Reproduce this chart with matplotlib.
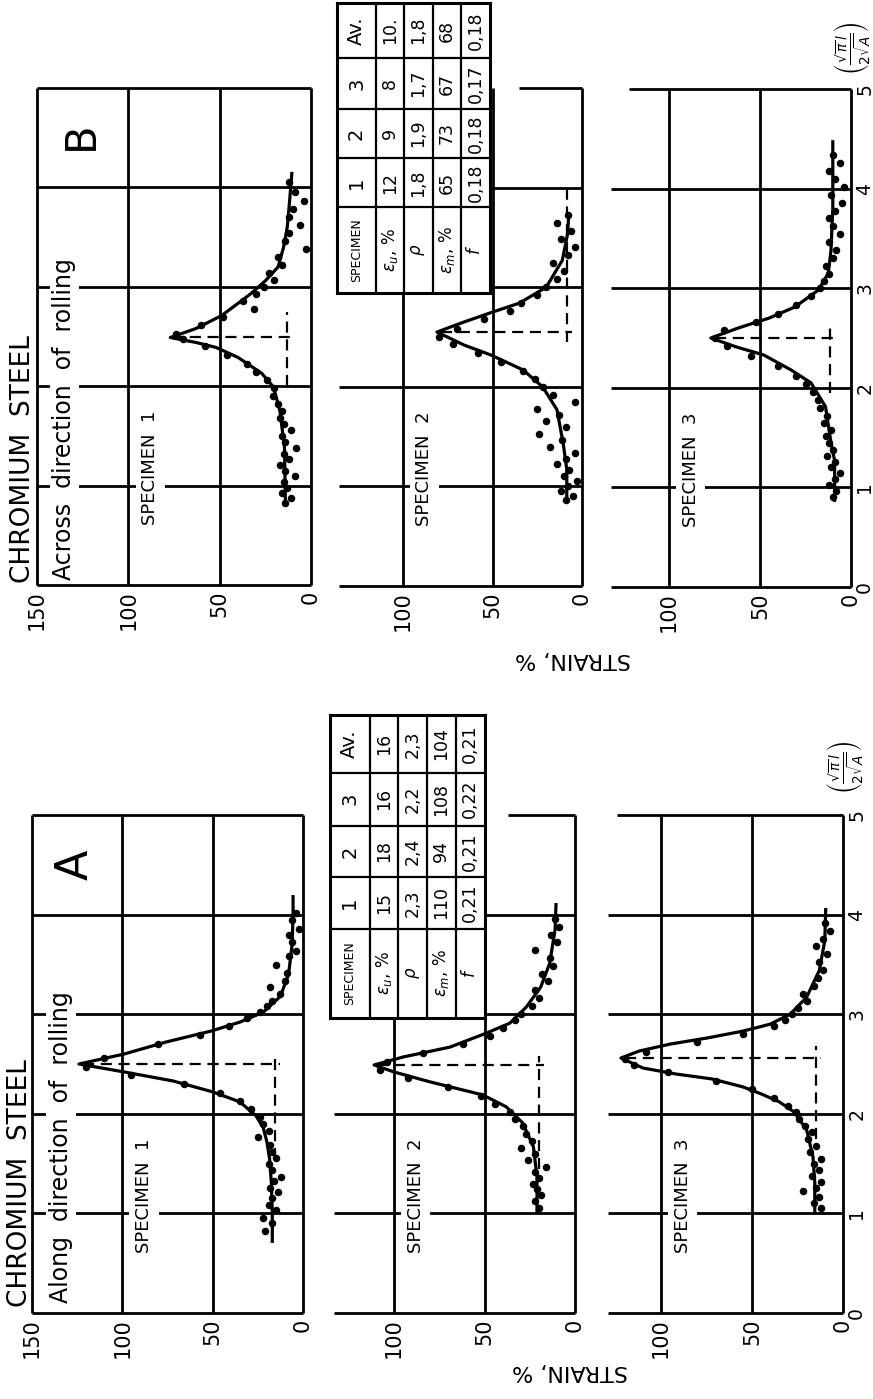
import matplotlib
matplotlib.use("Agg")
import matplotlib.pyplot as plt

plt.rcParams['font.family'] = ['DejaVu Sans']
plt.rcParams['mathtext.fontset'] = 'dejavusans'

W, H = 873, 1399

# ---- data: position (l-units) and strain (%) ----
A1_POS = [0.72, 1.00, 1.30, 1.55, 1.72, 1.86, 1.98, 2.12, 2.22, 2.33, 2.42, 2.50, 2.60, 2.72, 2.83, 2.92, 3.02, 3.18, 3.40, 3.70, 4.00, 4.18]
A1_STRAIN = [17, 17, 17.5, 18.5, 20, 22, 26, 35, 50, 72, 99, 124, 99, 76, 51, 35, 22, 12.5, 8, 6, 5.5, 5.5]
A2_POS = [1.02, 1.37, 1.67, 1.91, 2.07, 2.19, 2.32, 2.42, 2.49, 2.57, 2.67, 2.81, 2.91, 3.07, 3.27, 3.51, 3.85, 4.10]
A2_STRAIN = [21, 21, 23, 29, 38, 51, 80, 100, 111, 95, 69, 49, 36, 27, 19, 14, 11, 10.5]
A3_POS = [1.02, 1.31, 1.57, 1.84, 2.02, 2.12, 2.20, 2.27, 2.35, 2.40, 2.46, 2.56, 2.63, 2.70, 2.76, 2.83, 2.90, 3.00, 3.17, 3.44, 3.74, 4.05]
A3_STRAIN = [15.5, 15.5, 16.5, 20, 27, 35, 45, 55, 72, 92, 110, 122, 112, 95, 75, 55, 40, 29, 20, 13, 10, 9.5]
B1_POS = [0.82, 1.38, 1.75, 1.99, 2.13, 2.29, 2.39, 2.44, 2.49, 2.58, 2.71, 2.86, 2.93, 3.06, 3.20, 3.40, 3.60, 3.80, 4.14]
B1_STRAIN = [14, 14.5, 17, 20.5, 27, 40, 52, 63, 77, 63, 49, 38, 33, 25, 18, 15, 13, 12, 10.5]
B2_POS = [0.88, 1.17, 1.43, 1.77, 2.00, 2.17, 2.32, 2.42, 2.55, 2.65, 2.75, 2.84, 3.00, 3.27, 3.54, 3.70]
B2_STRAIN = [8.5, 8.5, 10.5, 14, 22, 33, 51, 66, 81, 66, 50, 35, 20, 11, 8, 7.5]
B3_POS = [0.87, 1.27, 1.45, 1.81, 2.05, 2.18, 2.33, 2.41, 2.50, 2.60, 2.70, 2.81, 2.98, 3.15, 3.38, 3.80, 4.47]
B3_STRAIN = [9, 9, 11, 14, 22, 33, 48, 63, 77, 62, 45, 31, 18, 12.5, 11, 10, 10]

# measured points
A1_PTS_POS = [0.82, 0.90, 0.95, 1.03, 1.08, 1.15, 1.21, 1.26, 1.33, 1.37, 1.44, 1.50, 1.56, 1.62, 1.69, 1.77, 1.83, 1.90, 1.97, 2.05, 2.13, 2.21, 2.30, 2.39, 2.47, 2.56, 2.70, 2.79, 2.88, 2.96, 3.02, 3.08, 3.13, 3.20, 3.27, 3.33, 3.41, 3.49, 3.58, 3.63, 3.72, 3.80, 3.86, 3.95, 4.02]
A1_PTS_STRAIN = [21, 17, 22, 15, 19, 17, 14, 18, 16, 12, 17, 19, 15, 17, 18, 25, 19, 22, 24, 29, 35, 46, 66, 95, 120, 110, 80, 57, 41, 31, 24, 20, 17, 13, 18, 10, 9, 15, 8, 4, 6, 8, 2, 6, 4]
A2_PTS_POS = [1.05, 1.12, 1.18, 1.25, 1.30, 1.36, 1.42, 1.47, 1.54, 1.60, 1.66, 1.73, 1.80, 1.88, 1.95, 2.02, 2.10, 2.18, 2.27, 2.36, 2.44, 2.52, 2.61, 2.70, 2.78, 2.86, 2.94, 3.00, 3.08, 3.16, 3.24, 3.33, 3.40, 3.48, 3.56, 3.64, 3.72, 3.80, 3.88, 3.96]
A2_PTS_STRAIN = [20, 22, 19, 21, 23, 20, 22, 16, 26, 22, 30, 24, 27, 29, 33, 36, 44, 52, 70, 92, 108, 104, 84, 62, 47, 40, 33, 30, 24, 20, 22, 15, 18, 12, 14, 22, 10, 13, 9, 11]
A3_PTS_POS = [1.05, 1.10, 1.16, 1.22, 1.26, 1.32, 1.38, 1.44, 1.50, 1.55, 1.62, 1.68, 1.75, 1.82, 1.88, 1.95, 2.02, 2.08, 2.16, 2.25, 2.33, 2.42, 2.49, 2.55, 2.62, 2.72, 2.80, 2.88, 2.94, 3.00, 3.06, 3.13, 3.20, 3.28, 3.36, 3.44, 3.52, 3.60, 3.68, 3.76, 3.84, 3.92]
A3_PTS_STRAIN = [12, 16, 13, 22, 15, 12, 17, 13, 16, 12, 18, 15, 19, 17, 21, 24, 26, 30, 38, 50, 70, 96, 115, 120, 108, 80, 55, 38, 32, 28, 25, 20, 22, 16, 14, 11, 13, 9, 15, 11, 7, 10]
B1_PTS_POS = [0.82, 0.88, 0.93, 0.98, 1.04, 1.10, 1.15, 1.21, 1.27, 1.32, 1.38, 1.44, 1.50, 1.56, 1.62, 1.68, 1.75, 1.82, 1.90, 1.98, 2.06, 2.14, 2.22, 2.31, 2.40, 2.47, 2.53, 2.62, 2.70, 2.78, 2.86, 2.93, 3.00, 3.07, 3.14, 3.22, 3.30, 3.38, 3.46, 3.54, 3.62, 3.70, 3.78, 3.86, 3.95, 4.05]
B1_PTS_STRAIN = [14, 11, 16, 13, 15, 9, 14, 17, 12, 15, 8, 14, 16, 11, 15, 17, 16, 18, 21, 20, 24, 30, 35, 46, 58, 70, 74, 60, 48, 31, 37, 30, 26, 20, 23, 16, 18, 3, 14, 12, 6, 12, 10, 4, 9, 12]
B2_PTS_POS = [0.86, 0.90, 0.95, 1.00, 1.05, 1.10, 1.16, 1.22, 1.28, 1.34, 1.40, 1.47, 1.53, 1.60, 1.66, 1.72, 1.78, 1.85, 1.92, 2.00, 2.08, 2.16, 2.25, 2.34, 2.43, 2.50, 2.58, 2.68, 2.76, 2.84, 2.92, 3.00, 3.08, 3.16, 3.24, 3.32, 3.40, 3.48, 3.56, 3.64, 3.72]
B2_PTS_STRAIN = [9, 5, 12, 8, 3, 10, 7, 14, 9, 4, 18, 11, 24, 9, 20, 13, 25, 4, 16, 22, 26, 33, 45, 58, 72, 80, 70, 55, 40, 34, 25, 20, 14, 10, 16, 8, 4, 12, 6, 14, 8]
B3_PTS_POS = [0.90, 0.96, 1.02, 1.08, 1.14, 1.20, 1.26, 1.32, 1.38, 1.45, 1.52, 1.58, 1.65, 1.72, 1.80, 1.88, 1.96, 2.04, 2.12, 2.22, 2.32, 2.42, 2.50, 2.58, 2.66, 2.74, 2.83, 2.92, 3.00, 3.07, 3.14, 3.22, 3.30, 3.38, 3.46, 3.54, 3.62, 3.70, 3.78, 3.86, 3.94, 4.02, 4.10, 4.18, 4.26, 4.34]
B3_PTS_STRAIN = [10, 8, 12, 9, 6, 11, 9, 13, 10, 12, 14, 11, 15, 13, 17, 18, 21, 25, 30, 40, 55, 68, 75, 70, 52, 40, 30, 22, 17, 15, 12, 14, 10, 8, 12, 6, 10, 12, 9, 5, 11, 4, 9, 12, 6, 10]

# dashed construction: peak position, peak strain, eps_u level, eps_u span
A1_MARK = (2.50, 122, 15.5, 1.55, 2.60)
A2_MARK = (2.49, 110, 20, 1.45, 2.58)
A3_MARK = (2.56, 120, 15, 1.75, 2.68)
B1_MARK = (2.49, 76, 13, 2.00, 2.75)
B2_MARK = (2.55, 79, 8.5, 2.45, 4.00)
B3_MARK = (2.50, 75, 11.5, 1.95, 2.62)

TABLE_HEAD = ['SPECIMEN', '1', '2', '3', 'Av.']
TABLE_QTY = [r'$\varepsilon_u$, %', r'$\rho$', r'$\varepsilon_m$, %', r'$f$']
TABLE_A = [['15', '18', '16', '16'],
           ['2,3', '2,4', '2,2', '2,3'],
           ['110', '94', '108', '104'],
           ['0,21', '0,21', '0,22', '0,21']]
TABLE_B = [['12', '9', '8', '10.'],
           ['1,8', '1,9', '1,7', '1,8'],
           ['65', '73', '67', '68'],
           ['0,18', '0,18', '0,17', '0,18']]

# ---- layout (pixels of the rotated page) ----
PANELS = [
    dict(box=(32, 303, 815, 1313), lo=150, top_lo=150, ticks=[150, 100, 50, 0], right=False,
         pos=A1_POS, strain=A1_STRAIN, ppos=A1_PTS_POS, pstrain=A1_PTS_STRAIN, mark=A1_MARK, name='SPECIMEN  1'),
    dict(box=(303.5, 575, 815, 1313), lo=133, top_lo=37, ticks=[100, 50, 0], right=False,
         pos=A2_POS, strain=A2_STRAIN, ppos=A2_PTS_POS, pstrain=A2_PTS_STRAIN, mark=A2_MARK, name='SPECIMEN  2'),
    dict(box=(570, 843, 815, 1313), lo=129, top_lo=124, ticks=[100, 50, 0], right=True,
         pos=A3_POS, strain=A3_STRAIN, ppos=A3_PTS_POS, pstrain=A3_PTS_STRAIN, mark=A3_MARK, name='SPECIMEN  3'),
    dict(box=(37, 311, 88, 585), lo=150, top_lo=150, ticks=[150, 100, 50, 0], right=False,
         pos=B1_POS, strain=B1_STRAIN, ppos=B1_PTS_POS, pstrain=B1_PTS_STRAIN, mark=B1_MARK, name='SPECIMEN  1'),
    dict(box=(313.5, 582, 88, 586), lo=136, top_lo=35, ticks=[100, 50, 0], right=False,
         pos=B2_POS, strain=B2_STRAIN, ppos=B2_PTS_POS, pstrain=B2_PTS_STRAIN, mark=B2_MARK, name='SPECIMEN  2'),
    dict(box=(578, 851, 89, 587), lo=132, top_lo=122, ticks=[100, 50, 0], right=True,
         pos=B3_POS, strain=B3_STRAIN, ppos=B3_PTS_POS, pstrain=B3_PTS_STRAIN, mark=B3_MARK, name='SPECIMEN  3'),
]

ROW_EDGES = [0, 0.255, 0.44, 0.625, 0.81, 1.0]
COL_EDGES = [0, 0.295, 0.465, 0.635, 0.81, 1.0]

fig = plt.figure(figsize=(W / 100, H / 100), dpi=100)
fig.patch.set_facecolor('white')


def px_axes(left, right, top, bottom):
    return fig.add_axes([left / W, 1 - bottom / H, (right - left) / W, (bottom - top) / H])


def fx(x):
    return x / W


def fy(y):
    return 1 - y / H


LW = 2.0
WHITE = dict(facecolor='white', edgecolor='none', pad=2)

axes = []
for p in PANELS:
    ax = px_axes(*p['box'])
    ax.set_xlim(150, 0)
    ax.set_ylim(0, 5)
    ax.patch.set_visible(False)
    for sp in ax.spines.values():
        sp.set_visible(False)
    kw = dict(color='black', lw=LW, clip_on=False, zorder=1)
    ax.vlines([50, 100], 0, 5, **kw)
    ax.hlines([1, 2, 3, 4], p['lo'], 0, **kw)
    ax.hlines(0, p['lo'], 0, **kw)
    ax.hlines(5, p['top_lo'], 0, **kw)
    ax.vlines(0, 0, 5, **kw)
    if p['lo'] == 150:
        ax.vlines(150, 0, 5, **kw)

    ax.plot(p['strain'], p['pos'], color='black', lw=2.3, clip_on=False, zorder=3,
            solid_joinstyle='round')
    ax.plot(p['pstrain'], p['ppos'], 'o', ms=4.4, color='black', clip_on=False, zorder=4)

    px_, ps_, eu, e0, e1 = p['mark']
    dash = dict(color='black', lw=1.6, ls=(0, (5, 3)), clip_on=False, zorder=2)
    ax.plot([ps_, eu - 3], [px_, px_], **dash)
    ax.plot([eu, eu], [e0, e1], **dash)

    ax.text(88, 1.18, p['name'], rotation=90, ha='center', va='center', fontsize=13,
            bbox=dict(facecolor='white', edgecolor='none', pad=4), zorder=5)

    ax.set_xticks(p['ticks'])
    ax.set_xticklabels([str(t) for t in p['ticks']], rotation=90, fontsize=15)
    ax.tick_params(axis='x', length=0, pad=4)
    if p['right']:
        ax.yaxis.tick_right()
        ax.set_yticks(range(6))
        ax.set_yticklabels([str(t) for t in range(6)], rotation=90, fontsize=13.5)
        for lbl in ax.get_yticklabels():
            lbl.set_va('center')
        ax.tick_params(axis='y', length=0, pad=3)
    else:
        ax.set_yticks([])
    axes.append(ax)

# panel letters and titles
axes[0].text(126, 4.5, 'A', rotation=90, ha='center', va='center', fontsize=32)
axes[3].text(126, 4.52, 'B', rotation=90, ha='center', va='center', fontsize=30)
axes[0].text(134, 0.1, 'Along  direction  of  rolling', rotation=90, ha='center', va='bottom',
             fontsize=17, bbox=WHITE, zorder=5)
axes[3].text(135, 0.05, 'Across  direction  of  rolling', rotation=90, ha='center', va='bottom',
             fontsize=17, bbox=WHITE, zorder=5)
fig.text(fx(20), fy(1307), 'CHROMIUM  STEEL', rotation=90, ha='center', va='bottom', fontsize=19)
fig.text(fx(23), fy(583), 'CHROMIUM  STEEL', rotation=90, ha='center', va='bottom', fontsize=19)

fig.text(fx(570), fy(1371), 'STRAIN, %', rotation=180, ha='center', va='center', fontsize=16)
fig.text(fx(573), fy(659), 'STRAIN, %', rotation=180, ha='center', va='center', fontsize=16)

xlab = r'$\left(\frac{\sqrt{\pi}\,l}{2\sqrt{A}}\right)$'
fig.text(fx(846), fy(767), xlab, rotation=90, ha='center', va='center', fontsize=14)
fig.text(fx(853), fy(48), xlab, rotation=90, ha='center', va='center', fontsize=14)


def draw_table(box, values):
    ax = px_axes(*box)
    ax.set_zorder(5)
    ax.set_xlim(0, 1)
    ax.set_ylim(0, 1)
    ax.set_xticks([])
    ax.set_yticks([])
    ax.set_facecolor('white')
    for sp in ax.spines.values():
        sp.set_linewidth(2.2)
    for e in ROW_EDGES[1:-1]:
        ax.axvline(e, color='black', lw=1.6)
    for e in COL_EDGES[1:-1]:
        ax.axhline(e, color='black', lw=1.6)
    for r in range(5):
        for c in range(5):
            if r == 0:
                txt = TABLE_HEAD[c]
                size = 9 if c == 0 else 14
            elif c == 0:
                txt = TABLE_QTY[r - 1]
                size = 12
            else:
                txt = values[r - 1][c - 1]
                size = 12.5
            xc = (ROW_EDGES[r] + ROW_EDGES[r + 1]) / 2
            yc = (COL_EDGES[c] + COL_EDGES[c + 1]) / 2
            ax.text(xc, yc, txt, rotation=90, ha='center', va='center', fontsize=size)


draw_table((330, 485, 715, 1018), TABLE_A)
draw_table((337, 490, 3, 293), TABLE_B)

fig.savefig('out.png', dpi=100, facecolor='white')
